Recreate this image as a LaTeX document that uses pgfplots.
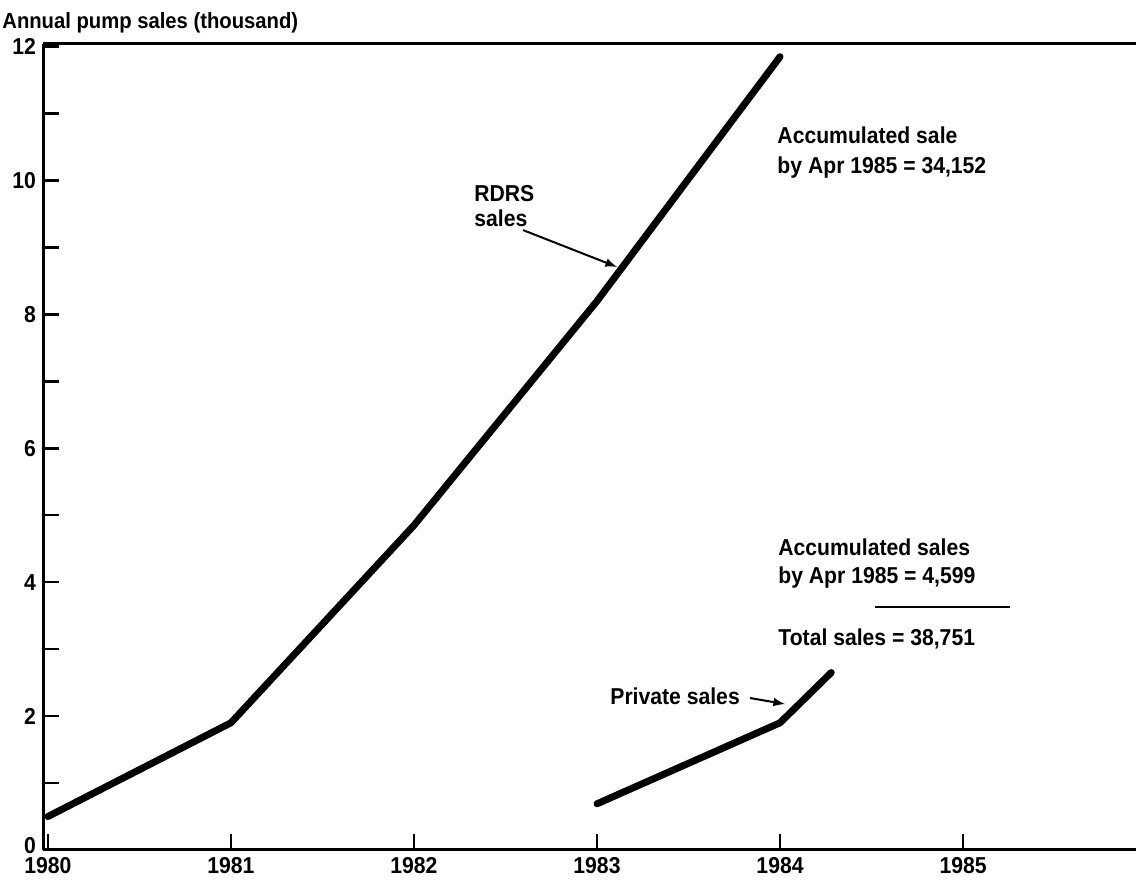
\documentclass[border=0pt]{standalone}
\usepackage{fontspec}
\setmainfont{Liberation Sans}[FakeStretch=0.92]
\usepackage{pgfplots}
\pgfplotsset{compat=1.18}
\begin{document}
\begin{tikzpicture}
\begin{axis}[
  scale only axis, width=546.5pt, height=403pt,
  xmin=1979.973, xmax=1985.945, ymin=0, ymax=12.04,
  axis x line*=bottom, axis y line*=left,
  axis line style={line width=1.5pt, -},
  xtick={1980,1981,1982,1983,1984,1985},
  xticklabels={1980,1981,1982,1983,1984,1985},
  ytick={0,2,4,6,8,10,12}, minor ytick={1,3,5,7,9,11},
  yticklabels={\raisebox{5pt}{0},2,4,6,8,10,12},
  tick style={line width=1.2pt, black},
  tick align=inside, major tick length=8pt, minor tick length=8pt,
  ticklabel style={font=\fontsize{11.5}{13}\selectfont\bfseries},
  /pgf/number format/assume math mode=true,
  clip=false,
]
\addplot[line width=3.5pt, line cap=round, line join=round] coordinates {
  (1980,0.5) (1981,1.9) (1982,4.85) (1983,8.2) (1984.0,11.85)
};
\addplot[line width=3.5pt, line cap=round, line join=round] coordinates {
  (1983,0.69) (1984,1.9) (1984.28,2.65)
};
\draw[line width=1.5pt] (rel axis cs:0,1) -- (rel axis cs:1,1);
\coordinate (SW) at (rel axis cs:0,0);
\coordinate (NE) at (rel axis cs:1,1);
\node[anchor=base west, inner sep=0pt, font=\fontsize{11}{13}\selectfont\bfseries] at ([xshift=-20.5pt, yshift=7.5pt]rel axis cs:0,1) {Annual pump sales (thousand)};
\tikzset{ann/.style={anchor=base west, inner sep=0pt, font=\fontsize{11.5}{14}\selectfont\bfseries}}
\node[ann] at (axis cs:1983.984,10.56) {Accumulated sale};
\node[ann] at (axis cs:1983.984,10.11) {by Apr 1985 = 34,152};
\node[ann] at (axis cs:1983.989,4.40) {Accumulated sales};
\node[ann] at (axis cs:1983.989,3.98) {by Apr 1985 = 4,599};
\node[ann] at (axis cs:1983.989,3.05) {Total sales = 38,751};
\draw[line width=1pt] (axis cs:1984.519,3.63) -- (axis cs:1985.257,3.63);
\node[ann] at (axis cs:1982.328,9.68) {RDRS};
\node[ann] at (axis cs:1982.328,9.32) {sales};
\node[ann] at (axis cs:1983.071,2.18) {Private sales};
\draw[line width=1pt, -latex] (axis cs:1982.596,9.26) -- (axis cs:1983.109,8.71);
\draw[line width=1pt, -latex] (axis cs:1983.836,2.27) -- (axis cs:1984.027,2.18);
\end{axis}
\pgfresetboundingbox
\path[use as bounding box] ([xshift=-21.5pt,yshift=-16.5pt]SW) rectangle ([yshift=22pt]NE);
\end{tikzpicture}
\end{document}
